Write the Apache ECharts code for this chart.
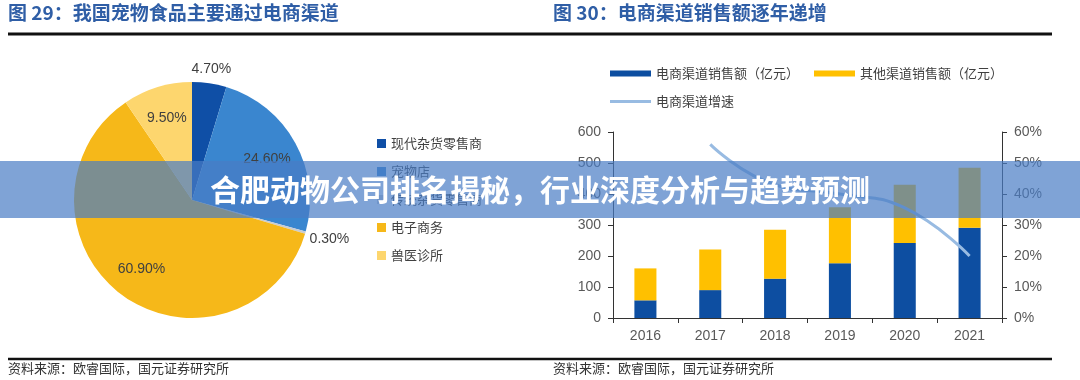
<!DOCTYPE html>
<html>
<head>
<meta charset="utf-8">
<script src="https://cdn.jsdelivr.net/npm/echarts@6/dist/echarts.min.js"></script>
<style>
html,body{margin:0;padding:0;background:#fff;}
#main{width:1080px;height:380px;}
</style>
</head>
<body>
<div id="main"></div>
<script>
// ---- data ----
const leftTitle = '图 29：我国宠物食品主要通过电商渠道';
const rightTitle = '图 30：电商渠道销售额逐年递增';
const sourceText = '资料来源：欧睿国际，国元证券研究所';
const bannerText = '合肥动物公司排名揭秘，行业深度分析与趋势预测';

const pieNames = ['现代杂货零售商', '宠物店', '传统杂货零售商', '电子商务', '兽医诊所'];
const pieValues = [4.7, 24.6, 0.3, 60.9, 9.5];

const years = ['2016', '2017', '2018', '2019', '2020', '2021'];
const ecomSales = [57, 90, 127, 177, 242, 291];
const otherSales = [103, 131, 158, 180, 188, 194];
const ecomGrowth = [null, 56, 43, 40, 35.5, 20];

const leftTicks = [0, 600, 100];
const rightTicks = [0, 60, 10];

const barNames = ['电商渠道销售额（亿元）', '其他渠道销售额（亿元）', '电商渠道增速'];

// ---- styles ----
const pieColors = ['#0f4fa6', '#3a86cf', '#c8ccd2', '#f6b819', '#fdd66e'];
const cjk = '"Noto Sans CJK SC", "Noto Sans", sans-serif';
const latin = '"Liberation Sans", Arial, sans-serif';
const txt = '#404040';
const lineColor = '#98bbe2';

const chart = echarts.init(document.getElementById('main'), null, {renderer: 'canvas'});

const pieData = pieNames.map((n, i) => ({name: n, value: pieValues[i], itemStyle: {color: pieColors[i]}}));
const labelFmt = p => p.value.toFixed(2) + '%';

const overlayData = (showSet) => pieNames.map((n, i) => ({
  name: n, value: pieValues[i],
  itemStyle: {color: 'rgba(0,0,0,0)'},
  label: {show: showSet.includes(i)}
}));

const labelSeries = (name, radius, showSet) => ({
  type: 'pie', name: name, center: [192, 200], radius: radius,
  startAngle: 90, clockwise: true, avoidLabelOverlap: false, silent: true,
  data: overlayData(showSet),
  label: {position: 'inside', formatter: labelFmt, color: txt, fontSize: 14, fontFamily: latin},
  labelLine: {show: false},
  emphasis: {disabled: true}
});

const option = {
  animation: false,
  textStyle: {fontFamily: cjk},
  legend: [
    {
      orient: 'vertical', left: 372, top: 132,
      itemWidth: 9, itemHeight: 9, itemGap: 15, icon: 'rect',
      data: pieNames,
      textStyle: {fontSize: 13, color: txt, lineHeight: 13, fontFamily: cjk},
      selectedMode: false
    },
    {
      left: 605, top: 62, itemWidth: 41, itemHeight: 6, itemGap: 15, icon: 'rect',
      data: [barNames[0], barNames[1]],
      textStyle: {fontSize: 13, color: txt, fontFamily: cjk},
      selectedMode: false
    },
    {
      left: 605, top: 90, itemWidth: 41, itemHeight: 3, icon: 'rect',
      data: [{name: barNames[2], icon: 'rect', itemStyle: {color: lineColor}}],
      textStyle: {fontSize: 13, color: txt, fontFamily: cjk},
      selectedMode: false
    }
  ],
  grid: {left: 613, right: 78, top: 132, bottom: 62},
  xAxis: {
    type: 'category', data: years,
    axisLine: {lineStyle: {color: '#333', width: 1}},
    axisTick: {show: true, length: 5, lineStyle: {color: '#333'}},
    axisLabel: {fontSize: 14, color: '#595959', margin: 11, fontFamily: latin}
  },
  yAxis: [
    {
      type: 'value', min: leftTicks[0], max: leftTicks[1], interval: leftTicks[2],
      axisLine: {show: true, lineStyle: {color: '#333'}},
      axisTick: {show: true, length: 5, lineStyle: {color: '#333'}},
      splitLine: {show: false},
      axisLabel: {fontSize: 14, color: '#595959', margin: 12, fontFamily: latin}
    },
    {
      type: 'value', min: rightTicks[0], max: rightTicks[1], interval: rightTicks[2],
      axisLine: {show: true, lineStyle: {color: '#333'}},
      axisTick: {show: true, length: 5, lineStyle: {color: '#333'}},
      splitLine: {show: false},
      axisLabel: {fontSize: 14, color: '#595959', margin: 12, fontFamily: latin, formatter: '{value}%'}
    }
  ],
  series: [
    {
      type: 'pie', name: 'main', center: [192, 200], radius: [0, 118],
      startAngle: 90, clockwise: true, avoidLabelOverlap: false, silent: true,
      data: pieData,
      label: {show: false},
      labelLine: {show: false},
      emphasis: {disabled: true}
    },
    labelSeries('in', [0, 165], [1, 3, 4]),
    labelSeries('out1', [118, 140], [0]),
    labelSeries('out2', [118, 162], [2]),
    {
      type: 'bar', name: barNames[0], stack: 'total', data: ecomSales,
      barWidth: '34%', itemStyle: {color: '#0d4ea1'}, silent: true
    },
    {
      type: 'bar', name: barNames[1], stack: 'total', data: otherSales,
      itemStyle: {color: '#ffc000'}, silent: true
    },
    {
      type: 'line', name: barNames[2], yAxisIndex: 1, data: ecomGrowth,
      smooth: true, symbol: 'none',
      lineStyle: {color: lineColor, width: 3},
      itemStyle: {color: lineColor}, silent: true
    }
  ],
  graphic: [
    {type: 'text', left: 8, top: 3, style: {text: leftTitle, fill: '#2f5ea6', font: 'bold 19px ' + cjk}},
    {type: 'text', left: 553, top: 3, style: {text: rightTitle, fill: '#2f5ea6', font: 'bold 19px ' + cjk}},
    {type: 'line', shape: {x1: 8, y1: 34, x2: 1052, y2: 34}, style: {stroke: '#111', lineWidth: 3}},
    {type: 'line', shape: {x1: 8, y1: 359, x2: 1052, y2: 359}, style: {stroke: '#111', lineWidth: 2.5}},
    {type: 'text', left: 8, top: 362, style: {text: sourceText, fill: '#333', font: '13px ' + cjk}},
    {type: 'text', left: 553, top: 362, style: {text: sourceText, fill: '#333', font: '13px ' + cjk}},
    {type: 'rect', z: 100, shape: {x: 0, y: 161, width: 1080, height: 57}, style: {fill: 'rgba(72,124,196,0.7)'}},
    {type: 'text', z: 101, x: 540, y: 190, style: {text: bannerText, fill: '#fff', font: 'bold 30px ' + cjk, align: 'center', verticalAlign: 'middle', shadowColor: 'rgba(0,0,0,0.25)', shadowBlur: 2}}
  ]
};
chart.setOption(option);
</script>
</body>
</html>
